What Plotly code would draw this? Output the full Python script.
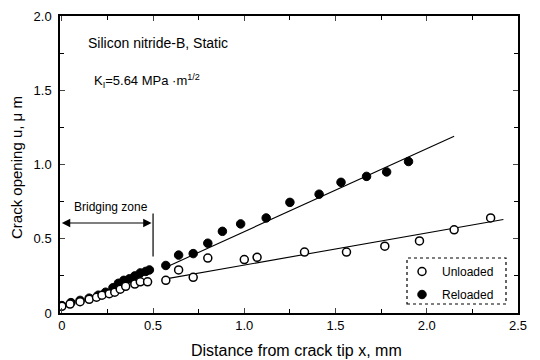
import plotly.graph_objects as go

# Unloaded (open circles)
unl_x = [0.0, 0.045, 0.10, 0.15, 0.19, 0.22, 0.26, 0.29, 0.32, 0.35, 0.40, 0.43, 0.47,
         0.57, 0.64, 0.72, 0.80, 1.00, 1.07, 1.33, 1.56, 1.77, 1.96, 2.15, 2.35]
unl_y = [0.045, 0.06, 0.076, 0.092, 0.106, 0.12, 0.13, 0.14, 0.16, 0.18, 0.195, 0.21, 0.21,
         0.22, 0.29, 0.24, 0.37, 0.36, 0.375, 0.41, 0.41, 0.45, 0.485, 0.56, 0.64]

# Reloaded (filled circles)
rel_x = [0.0, 0.05, 0.10, 0.15, 0.20, 0.24, 0.28, 0.31, 0.34, 0.37, 0.40, 0.43, 0.46, 0.48,
         0.57, 0.64, 0.72, 0.80, 0.88, 0.98, 1.12, 1.25, 1.41, 1.53, 1.67, 1.78, 1.90]
rel_y = [0.05, 0.07, 0.085, 0.10, 0.12, 0.14, 0.17, 0.20, 0.22, 0.23, 0.25, 0.27, 0.28, 0.29,
         0.32, 0.39, 0.40, 0.47, 0.55, 0.60, 0.64, 0.745, 0.80, 0.88, 0.92, 0.95, 1.02]

# Fitted lines
rel_fit_x = [0.556, 2.15]
rel_fit_y = [0.30, 1.19]
unl_fit_x = [0.57, 2.42]
unl_fit_y = [0.23, 0.63]

x_ticks = [0, 0.5, 1.0, 1.5, 2.0, 2.5]
x_tick_labels = ["0", "0.5", "1.0", "1.5", "2.0", "2.5"]
y_ticks = [0, 0.5, 1.0, 1.5, 2.0]
y_tick_labels = ["0", "0.5", "1.0", "1.5", "2.0"]

FONT = "Liberation Sans, Arial, sans-serif"

# page offset of the figure (default body margin)
OFF = 8
# plot area in page pixels
L, R, T, B = 60, 518, 16, 313
W, H = R - L, B - T
FW, FH = 540 - OFF, 360 - OFF

fig = go.Figure()
fig.add_trace(go.Scatter(x=rel_fit_x, y=rel_fit_y, mode="lines",
                         line=dict(color="black", width=1.1), showlegend=False))
fig.add_trace(go.Scatter(x=unl_fit_x, y=unl_fit_y, mode="lines",
                         line=dict(color="black", width=1.1), showlegend=False))
fig.add_trace(go.Scatter(x=rel_x, y=rel_y, mode="markers", name="Reloaded",
                         legendgroup="r", legendrank=2,
                         marker=dict(symbol="circle", size=8.5, color="black",
                                     line=dict(color="black", width=1))))
fig.add_trace(go.Scatter(x=unl_x, y=unl_y, mode="markers", name="Unloaded",
                         legendgroup="u", legendrank=1,
                         marker=dict(symbol="circle", size=8, color="white",
                                     line=dict(color="black", width=1.5))))

# Bridging zone arrow and marker line
fig.add_annotation(x=0.0, y=0.606, ax=0.5, ay=0.606, xref="x", yref="y", axref="x", ayref="y",
                   text="", showarrow=True, arrowhead=2, arrowsize=1.4, arrowwidth=1.2,
                   arrowside="end+start", arrowcolor="black")
fig.add_shape(type="line", x0=0.5, x1=0.5, y0=0.38, y1=0.67, xref="x", yref="y",
              line=dict(color="black", width=1.2))
fig.add_annotation(x=0.27, y=0.712, text="Bridging zone", showarrow=False,
                   xanchor="center", yanchor="middle",
                   font=dict(size=12, family=FONT, color="black"))
fig.add_annotation(x=0.135, y=1.82, xanchor="left", yanchor="middle",
                   text="Silicon nitride-B, Static",
                   showarrow=False, font=dict(size=14, family=FONT, color="black"))
fig.add_annotation(x=0.165, y=1.565, xanchor="left", yanchor="middle",
                   text="K<sub>I</sub>=5.64 MPa ·m<sup>1/2</sup>",
                   showarrow=False, font=dict(size=13, family=FONT, color="black"))

# Axis titles
fig.add_annotation(xref="paper", yref="paper", x=(296.5 - L) / W, y=(B - 350) / H,
                   xanchor="center", yanchor="middle",
                   text="Distance from crack tip x, mm", showarrow=False,
                   font=dict(size=16, family=FONT, color="black"))
fig.add_annotation(xref="paper", yref="paper", x=(16 - L) / W, y=(B - 168) / H,
                   xanchor="center", yanchor="middle",
                   text="Crack opening u, μ m", showarrow=False, textangle=-90,
                   font=dict(size=15, family=FONT, color="black"))

# Dashed legend box
fig.add_shape(type="rect", xref="paper", yref="paper",
              x0=(407 - L) / W, x1=(506 - L) / W,
              y0=(B - 304) / H, y1=(B - 258) / H,
              line=dict(color="black", width=1.2, dash="dot"))

fig.update_layout(
    width=FW, height=FH,
    margin=dict(l=L - OFF, r=FW - (R - OFF), t=T - OFF, b=FH - (B - OFF), autoexpand=False),
    paper_bgcolor="white", plot_bgcolor="white",
    font=dict(family=FONT, size=13, color="black"),
    legend=dict(x=(402 - L) / W, y=(B - 257) / H, xanchor="left", yanchor="top",
                bgcolor="rgba(0,0,0,0)", borderwidth=0,
                font=dict(size=12, family=FONT), tracegroupgap=4, itemwidth=30),
)
fig.update_xaxes(range=[-0.01, 2.5], tickvals=x_ticks, ticktext=x_tick_labels,
                 ticks="inside", ticklen=5, tickwidth=1, showline=True, linecolor="black",
                 linewidth=1.5, mirror="ticks", showgrid=False, zeroline=False,
                 automargin=False, tickfont=dict(size=13),
                 minor=dict(dtick=0.25, ticks="inside", ticklen=4, tickcolor="black"))
fig.update_yaxes(range=[0, 2.0], tickvals=y_ticks, ticktext=y_tick_labels,
                 ticks="inside", ticklen=5, tickwidth=1, showline=True, linecolor="black",
                 linewidth=1.5, mirror="ticks", showgrid=False, zeroline=False,
                 automargin=False, tickfont=dict(size=13), ticklabelstandoff=4,
                 minor=dict(dtick=0.25, ticks="inside", ticklen=4, tickcolor="black"))

fig.write_html("out.html")
